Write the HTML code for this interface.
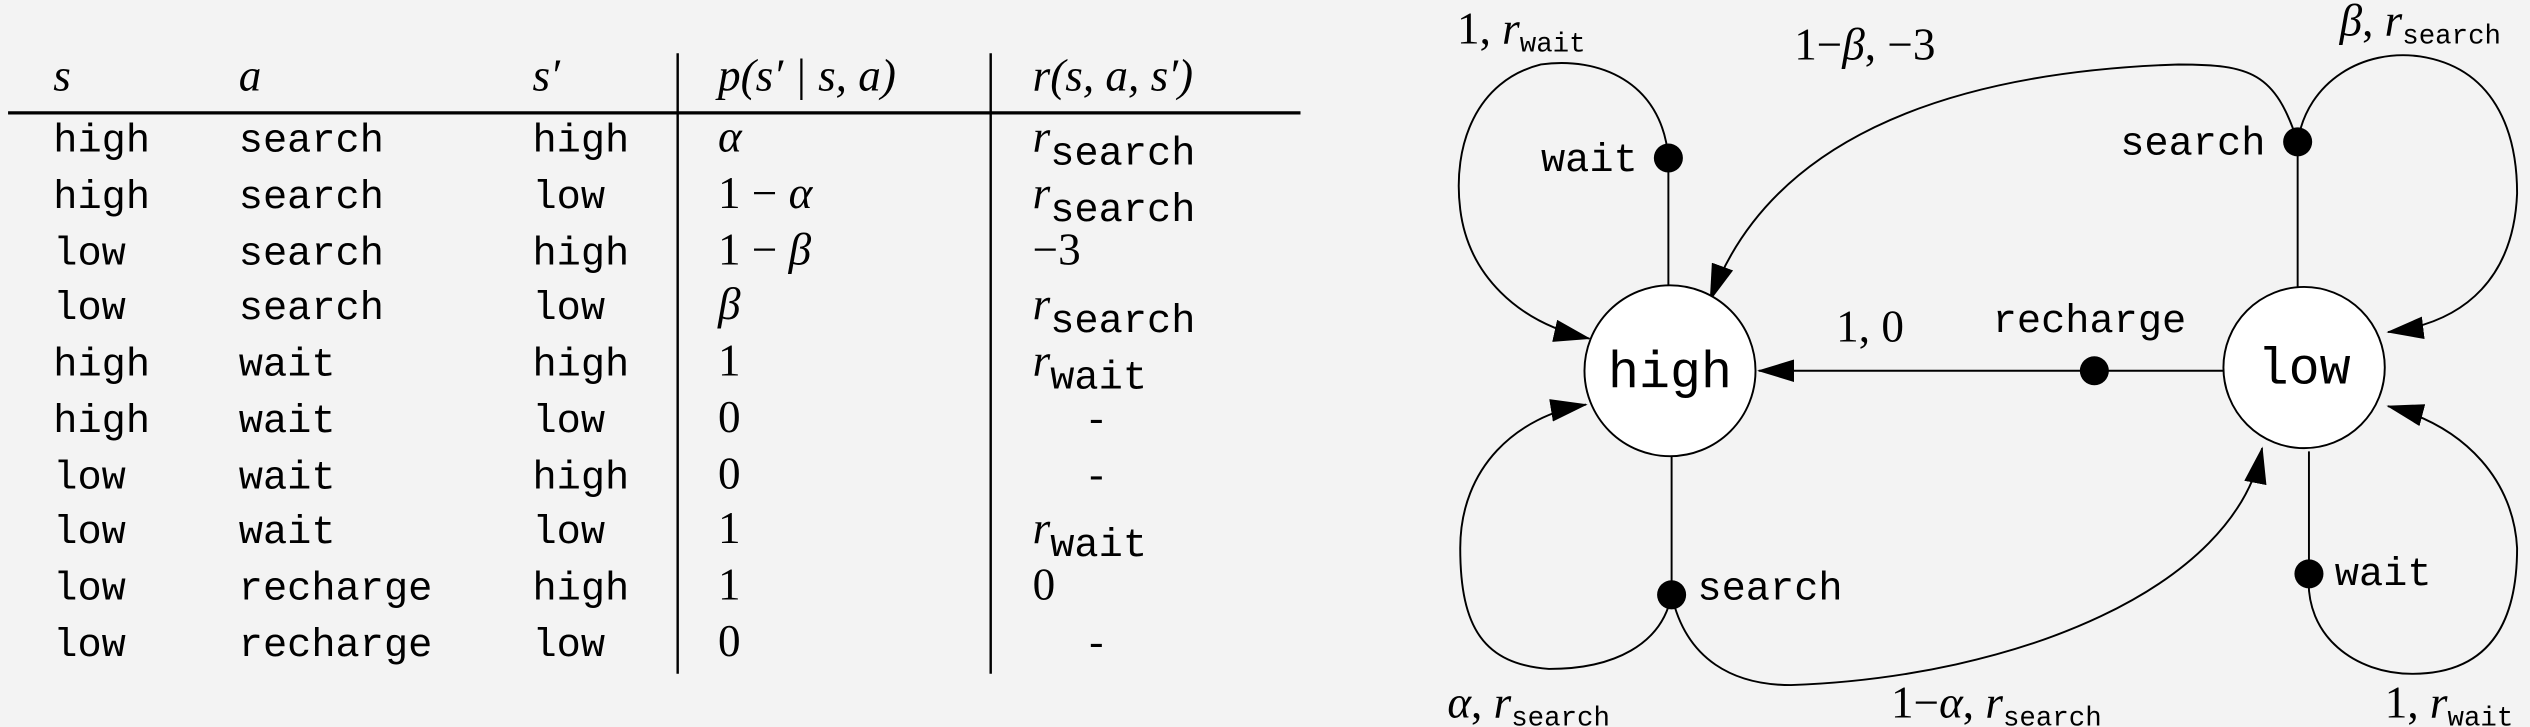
<!DOCTYPE html>
<html><head><meta charset="utf-8"><style>
html,body{margin:0;padding:0;background:#f3f3f3}
svg{display:block}
.m{font-family:"Liberation Mono",monospace;font-size:25px}
.i{font-family:"Liberation Serif",serif;font-style:italic;font-size:28px}
.r{font-family:"Liberation Serif",serif;font-size:28px}
.sub{font-family:"Liberation Mono",monospace;font-size:17px;font-style:normal}
.big{font-family:"Liberation Mono",monospace;font-size:32px}
</style></head><body>
<svg width="2530" height="727" viewBox="0 0 1568 451" preserveAspectRatio="none" xmlns="http://www.w3.org/2000/svg">
<defs><marker id="a" markerWidth="24" markerHeight="14" refX="22" refY="7" orient="auto" markerUnits="userSpaceOnUse"><path d="M0,0 L23,7 L0,14 Z" fill="#000"/></marker></defs>
<rect width="1568" height="451" fill="#f3f3f3"/>
<g stroke="#000" fill="none">
<line x1="5" y1="70" x2="806" y2="70" stroke-width="2"/>
<line x1="420" y1="33" x2="420" y2="418" stroke-width="1.5"/>
<line x1="614" y1="33" x2="614" y2="418" stroke-width="1.5"/>
</g>
<g>
<text class="i" x="33" y="56">s</text>
<text class="i" x="148" y="56">a</text>
<text class="i" x="330" y="56">s′</text>
<text class="i" x="445" y="56">p(s′ | s, a)</text>
<text class="i" x="640" y="56">r(s, a, s′)</text>
</g>
<g class="m">
<text x="33" y="94">high</text><text x="148" y="94">search</text><text x="330" y="94">high</text>
<text x="33" y="129">high</text><text x="148" y="129">search</text><text x="330" y="129">low</text>
<text x="33" y="164">low</text><text x="148" y="164">search</text><text x="330" y="164">high</text>
<text x="33" y="198">low</text><text x="148" y="198">search</text><text x="330" y="198">low</text>
<text x="33" y="233">high</text><text x="148" y="233">wait</text><text x="330" y="233">high</text>
<text x="33" y="268">high</text><text x="148" y="268">wait</text><text x="330" y="268">low</text>
<text x="33" y="303">low</text><text x="148" y="303">wait</text><text x="330" y="303">high</text>
<text x="33" y="337">low</text><text x="148" y="337">wait</text><text x="330" y="337">low</text>
<text x="33" y="372">low</text><text x="148" y="372">recharge</text><text x="330" y="372">high</text>
<text x="33" y="407">low</text><text x="148" y="407">recharge</text><text x="330" y="407">low</text>
</g>
<g class="r">
<text x="445" y="94"><tspan font-style="italic">α</tspan></text>
<text x="445" y="129">1 − <tspan font-style="italic">α</tspan></text>
<text x="445" y="164">1 − <tspan font-style="italic">β</tspan></text>
<text x="445" y="198"><tspan font-style="italic">β</tspan></text>
<text x="445" y="233">1</text><text x="445" y="268">0</text><text x="445" y="303">0</text>
<text x="445" y="337">1</text><text x="445" y="372">1</text><text x="445" y="407">0</text>
<text x="640" y="94"><tspan font-style="italic">r</tspan><tspan class="m" dy="8">search</tspan></text>
<text x="640" y="129"><tspan font-style="italic">r</tspan><tspan class="m" dy="8">search</tspan></text>
<text x="640" y="164">−3</text>
<text x="640" y="198"><tspan font-style="italic">r</tspan><tspan class="m" dy="8">search</tspan></text>
<text x="640" y="233"><tspan font-style="italic">r</tspan><tspan class="m" dy="8">wait</tspan></text>
<text x="640" y="337"><tspan font-style="italic">r</tspan><tspan class="m" dy="8">wait</tspan></text>
<text x="640" y="372">0</text>
</g>
<g class="m"><text x="672" y="268">-</text><text x="672" y="303">-</text><text x="672" y="407">-</text></g>
<g stroke="#000" stroke-width="1.2" fill="none">
<line x1="1034" y1="98" x2="1034" y2="177"/>
<line x1="1036" y1="283" x2="1036" y2="369"/>
<line x1="1424" y1="88" x2="1424" y2="178"/>
<line x1="1431" y1="280" x2="1431" y2="356"/>
<line x1="1378" y1="230" x2="1090" y2="230" marker-end="url(#a)"/>
<path d="M1034,98 C1030,50 990,35 955,40 C915,50 900,90 905,130 C910,170 940,200 985,210" marker-end="url(#a)"/>
<path d="M1036,369 C1030,400 1000,415 960,415 C920,412 905,390 905,340 C905,290 940,258 983,251" marker-end="url(#a)"/>
<path d="M1036,369 C1045,410 1075,425 1110,425 C1250,420 1385,365 1402,278" marker-end="url(#a)"/>
<path d="M1424,88 C1430,50 1465,30 1500,35 C1545,42 1560,80 1560,120 C1558,170 1530,200 1480,206" marker-end="url(#a)"/>
<path d="M1424,88 C1410,45 1395,40 1350,40 C1200,45 1095,90 1060,186" marker-end="url(#a)"/>
<path d="M1431,356 C1428,395 1460,418 1495,418 C1540,418 1560,390 1560,340 C1558,300 1530,265 1480,252" marker-end="url(#a)"/>
</g>
<circle cx="1035" cy="230" r="53" fill="#fff" stroke="#000" stroke-width="1.2"/>
<circle cx="1428" cy="228" r="50" fill="#fff" stroke="#000" stroke-width="1.2"/>
<text class="big" x="1035" y="240" text-anchor="middle">high</text>
<text class="big" x="1428" y="238" text-anchor="middle">low</text>
<g fill="#000">
<circle cx="1034" cy="98" r="9"/><circle cx="1036" cy="369" r="9"/>
<circle cx="1424" cy="88" r="9"/><circle cx="1431" cy="356" r="9"/>
<circle cx="1298" cy="230" r="9"/>
</g>
<g class="m">
<text x="1015" y="106" text-anchor="end">wait</text>
<text x="1404" y="96" text-anchor="end">search</text>
<text x="1052" y="372">search</text>
<text x="1447" y="363">wait</text>
<text x="1235" y="206">recharge</text>
</g>
<g class="r">
<text x="1138" y="212">1, 0</text>
<text x="903" y="27">1, <tspan font-style="italic">r</tspan><tspan class="sub" dy="5">wait</tspan></text>
<text x="1112" y="37">1−<tspan font-style="italic">β</tspan>, −3</text>
<text x="1450" y="22"><tspan font-style="italic">β</tspan>, <tspan font-style="italic">r</tspan><tspan class="sub" dy="5">search</tspan></text>
<text x="897" y="445"><tspan font-style="italic">α</tspan>, <tspan font-style="italic">r</tspan><tspan class="sub" dy="5">search</tspan></text>
<text x="1172" y="445">1−<tspan font-style="italic">α</tspan>, <tspan font-style="italic">r</tspan><tspan class="sub" dy="5">search</tspan></text>
<text x="1478" y="445">1, <tspan font-style="italic">r</tspan><tspan class="sub" dy="5">wait</tspan></text>
</g>
</svg>
</body></html>
